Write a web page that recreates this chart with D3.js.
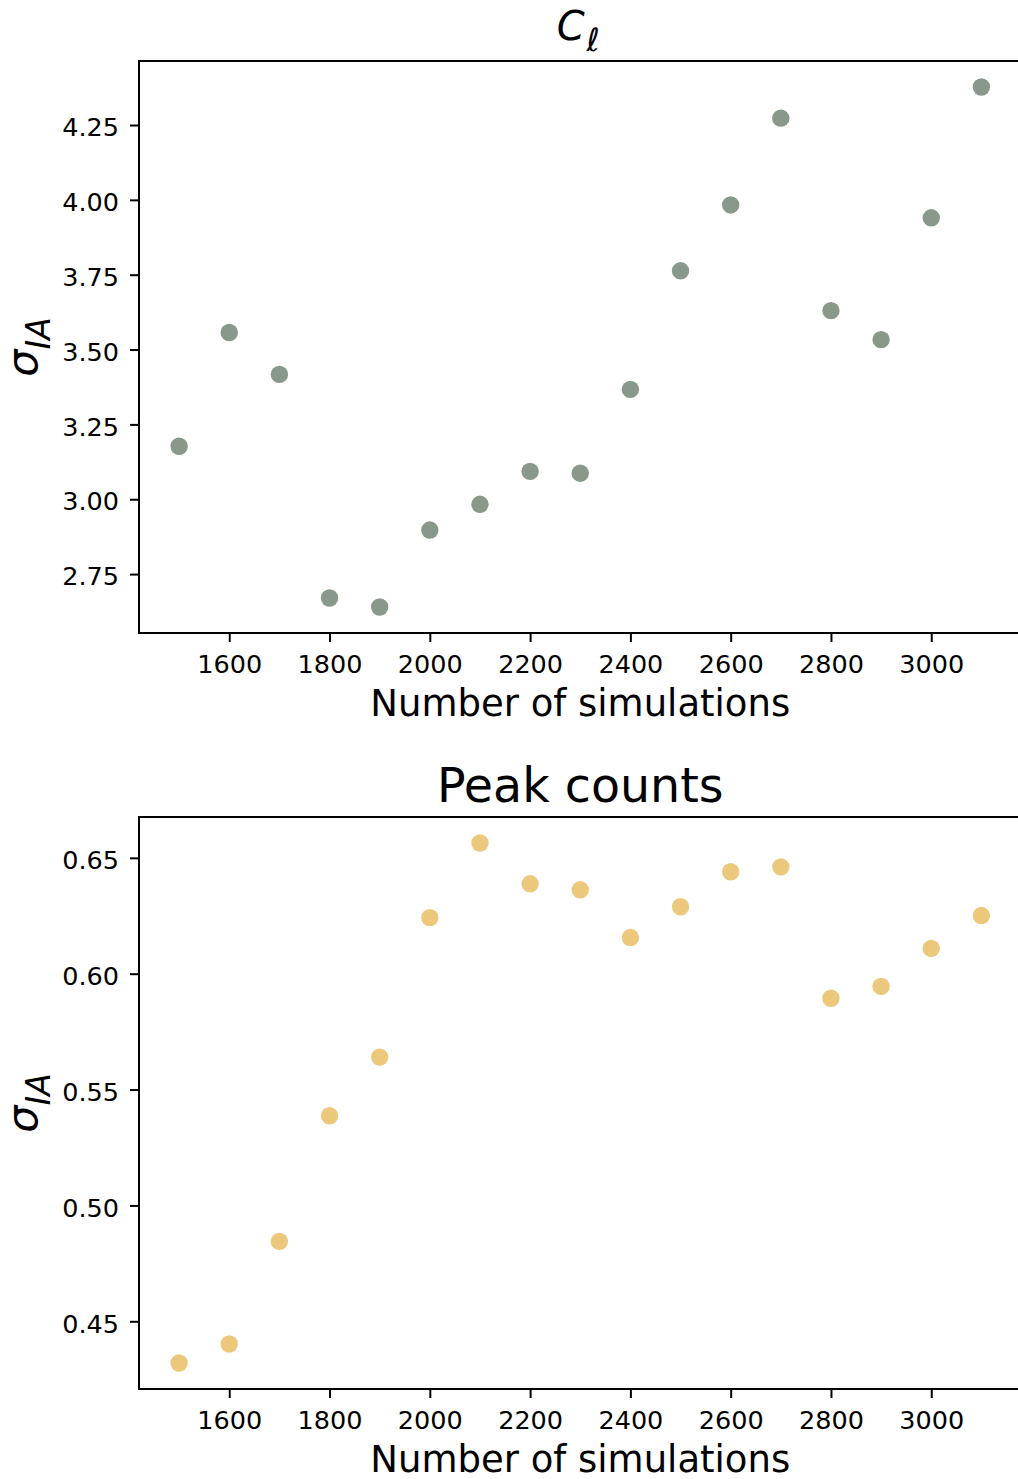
<!DOCTYPE html>
<html>
<head>
<meta charset="utf-8">
<script src="https://cdn.jsdelivr.net/npm/d3@7/dist/d3.min.js"></script>
<style>
  html, body { margin: 0; padding: 0; background: #ffffff; }
  svg { display: block; font-family: "DejaVu Sans", sans-serif; }
</style>
</head>
<body>
<svg id="chart" width="1018" height="1479"></svg>
<script>
// Number of simulations used for each estimate
const nSims = [1500, 1600, 1700, 1800, 1900, 2000, 2100, 2200, 2300, 2400, 2500, 2600, 2700, 2800, 2900, 3000, 3100];

// sigma_IA from the power spectrum (C_ell)
const sigmaCl = [3.177, 3.557, 3.417, 2.670, 2.640, 2.897, 2.983, 3.093, 3.087, 3.367, 3.763, 3.983, 4.273, 3.630, 3.533, 3.940, 4.377];

// sigma_IA from peak counts
const sigmaPeaks = [0.432, 0.4402, 0.4845, 0.5387, 0.564, 0.6242, 0.6564, 0.6388, 0.6362, 0.6156, 0.6289, 0.644, 0.6461, 0.5894, 0.5945, 0.6109, 0.6251];

// Tick values
const xTicks = [1600, 1800, 2000, 2200, 2400, 2600, 2800, 3000];
const yTicksCl = [2.75, 3.00, 3.25, 3.50, 3.75, 4.00, 4.25];
const yTicksPeaks = [0.45, 0.50, 0.55, 0.60, 0.65];

const svg = d3.select("#chart");
svg.append("rect").attr("width", 1018).attr("height", 1479).attr("fill", "#ffffff");

const left = 139, right = 1021.5;

function padded(ext) {
  const d = ext[1] - ext[0];
  return [ext[0] - 0.05 * d, ext[1] + 0.05 * d];
}

const x = d3.scaleLinear().domain(padded(d3.extent(nSims))).range([left, right]);

function panel(opts) {
  const { top, bottom, values, yTicks, color, title } = opts;
  const y = d3.scaleLinear().domain(padded(d3.extent(values))).range([bottom, top]);
  const g = svg.append("g");

  // points
  g.append("g").selectAll("circle")
    .data(nSims.map((n, i) => [n, values[i]]))
    .join("circle")
    .attr("cx", d => x(d[0]))
    .attr("cy", d => y(d[1]))
    .attr("r", 8.7)
    .attr("fill", color);

  // x axis
  const xa = g.append("g")
    .attr("transform", `translate(0,${bottom})`)
    .call(d3.axisBottom(x).tickValues(xTicks).tickFormat(d3.format("d"))
      .tickSize(9).tickSizeOuter(0).tickPadding(13));
  xa.select(".domain").remove();
  xa.selectAll(".tick line").attr("stroke", "#000").attr("stroke-width", 2);
  xa.selectAll(".tick text").attr("font-size", 25.5).attr("font-family", "DejaVu Sans").attr("fill", "#000");

  // y axis
  const ya = g.append("g")
    .attr("transform", `translate(${left},0)`)
    .call(d3.axisLeft(y).tickValues(yTicks).tickFormat(d3.format(".2f"))
      .tickSize(9).tickSizeOuter(0).tickPadding(11));
  ya.select(".domain").remove();
  ya.selectAll(".tick line").attr("stroke", "#000").attr("stroke-width", 2);
  ya.selectAll(".tick text").attr("font-size", 25.5).attr("font-family", "DejaVu Sans")
    .attr("fill", "#000").attr("dy", "0.42em");

  // frame
  g.append("rect")
    .attr("x", left).attr("y", top)
    .attr("width", right - left).attr("height", bottom - top)
    .attr("fill", "none").attr("stroke", "#000").attr("stroke-width", 2);

  const cx = (left + right) / 2;

  // x label
  g.append("text")
    .attr("x", cx).attr("y", bottom + 83)
    .attr("text-anchor", "middle")
    .attr("font-size", 37)
    .text("Number of simulations");

  // y label: sigma with subscript IA
  const cy = (top + bottom) / 2;
  const yl = g.append("text")
    .attr("transform", `translate(37,${cy}) rotate(-90)`)
    .attr("text-anchor", "middle");
  yl.append("tspan").attr("font-size", 43).attr("font-style", "italic").text("σ");
  yl.append("tspan").attr("font-size", 33).attr("font-style", "italic").attr("dy", 13).text("IA");

  title(g, cx, top);
}

panel({
  top: 61, bottom: 633, values: sigmaCl, yTicks: yTicksCl, color: "#88998b",
  title: (g, cx, top) => {
    const t = g.append("text").attr("x", cx - 2).attr("y", 40).attr("text-anchor", "middle");
    t.append("tspan").attr("font-size", 40).attr("font-style", "italic").text("C");
    t.append("tspan").attr("font-size", 32).attr("font-style", "italic").attr("dy", 11).attr("dx", 2).text("ℓ");
  }
});

panel({
  top: 817, bottom: 1389, values: sigmaPeaks, yTicks: yTicksPeaks, color: "#ecc87c",
  title: (g, cx, top) => {
    g.append("text").attr("x", cx).attr("y", 802).attr("text-anchor", "middle")
      .attr("font-size", 47.5).text("Peak counts");
  }
});
</script>
</body>
</html>
